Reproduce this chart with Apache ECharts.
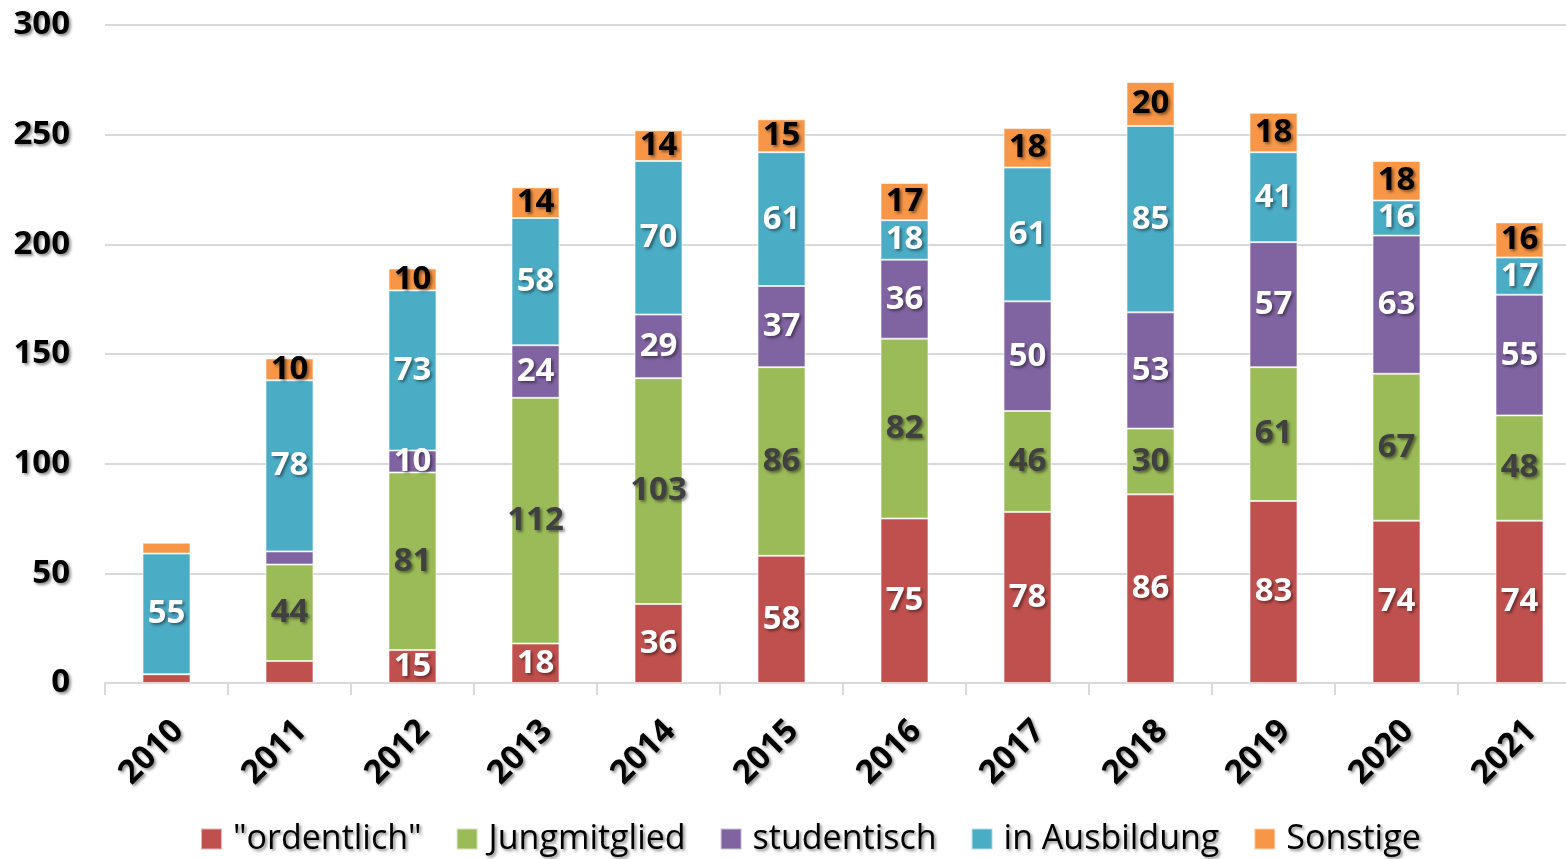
<!DOCTYPE html>
<html>
<head>
<meta charset="UTF-8">
<title>Mitglieder</title>
<script type="text/javascript" src="https://cdn.jsdelivr.net/npm/echarts@6/dist/echarts.min.js"></script>
<style>
  html, body { margin: 0; padding: 0; background: #fff; overflow: hidden; }
</style>
</head>
<body>
    <!-- plot runs a little past the right edge, like the original -->
    <div id="main" style="width: 1581px;height:859px;"></div>
    <script type="text/javascript">
    var years = ['2010','2011','2012','2013','2014','2015','2016','2017','2018','2019','2020','2021'];
    var ordentlich = [4, 10, 15, 18, 36, 58, 75, 78, 86, 83, 74, 74];
    var jungmitglied = [0, 44, 81, 112, 103, 86, 82, 46, 30, 61, 67, 48];
    var studentisch = [0, 6, 10, 24, 29, 37, 36, 50, 53, 57, 63, 55];
    var ausbildung = [55, 78, 73, 58, 70, 61, 18, 61, 85, 41, 16, 17];
    var sonstige = [5, 10, 10, 14, 14, 15, 17, 18, 20, 18, 18, 16];
    var yTicks = [0, 50, 100, 150, 200, 250, 300];

    var font = '"Open Sans", "Noto Sans", sans-serif';
    var shadow = { textShadowColor: 'rgba(0,0,0,0.45)', textShadowBlur: 3, textShadowOffsetX: 2, textShadowOffsetY: 2 };

    // minLabel: smallest value that still gets a label in the segment
    function makeSeries(name, data, color, labelColor, minLabel) {
        return {
            name: name,
            type: 'bar',
            stack: 'total',
            barWidth: '39%',
            data: data,
            itemStyle: { color: color, borderColor: 'rgba(255,255,255,0.6)', borderWidth: 1 },
            label: Object.assign({
                show: true,
                position: 'inside',
                color: labelColor,
                fontFamily: font,
                fontWeight: 'bold',
                fontSize: 33,
                formatter: function (p) { return p.value >= minLabel ? p.value : ''; }
            }, shadow)
        };
    }

    var myChart = echarts.init(document.getElementById('main'));
    var option = {
        animation: false,
        grid: { left: 105, right: 0, top: 25, bottom: 176 },
        legend: {
            bottom: -2,
            left: 195,
            itemWidth: 21,
            itemHeight: 21,
            itemGap: 34,
            icon: 'rect',
            textStyle: Object.assign({ fontFamily: font, fontSize: 34, color: '#000', padding: [0, 0, 0, 6] }, shadow),
            data: ['"ordentlich"', 'Jungmitglied', 'studentisch', 'in Ausbildung', 'Sonstige']
        },
        xAxis: {
            type: 'category',
            data: years,
            axisLine: { lineStyle: { color: '#d9d9d9', width: 2 } },
            axisTick: { show: true, length: 12, lineStyle: { color: '#d9d9d9', width: 2 } },
            axisLabel: Object.assign({
                rotate: 45,
                margin: 31,
                verticalAlign: 'top',
                color: '#000',
                fontFamily: font,
                fontWeight: 'bold',
                fontSize: 33
            }, shadow)
        },
        yAxis: {
            type: 'value',
            min: yTicks[0],
            max: yTicks[yTicks.length - 1],
            interval: 50,
            axisLine: { show: false },
            axisTick: { show: false },
            splitLine: { lineStyle: { color: '#d9d9d9', width: 2 } },
            axisLabel: Object.assign({
                margin: 35,
                color: '#000',
                fontFamily: font,
                fontWeight: 'bold',
                fontSize: 33
            }, shadow)
        },
        series: [
            makeSeries('"ordentlich"', ordentlich, '#c0504d', '#ffffff', 12),
            makeSeries('Jungmitglied', jungmitglied, '#9bbb59', '#404040', 8),
            makeSeries('studentisch', studentisch, '#8064a2', '#ffffff', 8),
            makeSeries('in Ausbildung', ausbildung, '#4bacc6', '#ffffff', 8),
            makeSeries('Sonstige', sonstige, '#f79646', '#000000', 8)
        ]
    };
    myChart.setOption(option);
    </script>
</body>
</html>
